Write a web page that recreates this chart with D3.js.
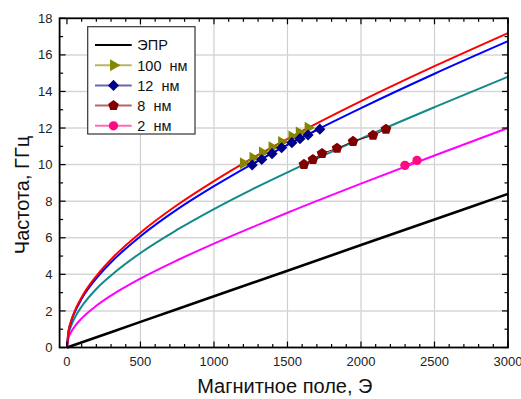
<!DOCTYPE html>
<html>
<head>
<meta charset="utf-8">
<script src="https://cdn.jsdelivr.net/npm/d3@7"></script>
<style>
  body { margin: 0; background: #fff; }
  svg { display: block; font-family: Arial, "Liberation Sans", sans-serif; }
</style>
</head>
<body>
<div id="chart"></div>
<script>
/* values */
const fieldOe = [0, 10, 25, 50, 100, 200, 300, 500, 750, 1000, 1250, 1500, 2000, 2500, 3000];
const curve100 = [0, 0.87, 1.37, 1.94, 2.75, 3.91, 4.82, 6.28, 7.79, 9.10, 10.30, 11.41, 13.47, 15.38, 17.19];
const curve12 = [0, 0.84, 1.33, 1.88, 2.66, 3.78, 4.66, 6.08, 7.55, 8.82, 9.99, 11.08, 13.09, 14.97, 16.75];
const curve8 = [0, 0.70, 1.11, 1.58, 2.24, 3.20, 3.94, 5.17, 6.44, 7.57, 8.61, 9.58, 11.42, 13.14, 14.80];
const curve2 = [0, 0.50, 0.79, 1.12, 1.59, 2.28, 2.84, 3.77, 4.77, 5.68, 6.54, 7.37, 8.96, 10.50, 12.00];
const eprField = [0, 500, 1000, 1500, 2000, 2500, 3000];
const eprFreq = [0, 1.4, 2.8, 4.2, 5.6, 7.0, 8.4];

const pts100H = [1200, 1265, 1330, 1395, 1460, 1530, 1580, 1640];
const pts100F = [10.07, 10.37, 10.66, 10.95, 11.24, 11.54, 11.75, 12.01];
const pts12H = [1260, 1325, 1395, 1460, 1530, 1585, 1640, 1720];
const pts12F = [9.98, 10.28, 10.60, 10.92, 11.20, 11.42, 11.62, 11.94];
const pts8H = [1612, 1673, 1735, 1837, 1946, 2082, 2170];
const pts8F = [10.01, 10.28, 10.61, 10.89, 11.27, 11.60, 11.93];
const pts2H = [2299, 2381];
const pts2F = [9.96, 10.23];

const legendLabels = ["ЭПР", "100  нм", "12  нм", "8  нм", "2  нм"];
const xTicks = [0, 500, 1000, 1500, 2000, 2500, 3000];
const yTicks = [0, 2, 4, 6, 8, 10, 12, 14, 16, 18];

const W = 521, H = 399;
const pLeft = 59.6, pRight = 508, pTop = 18.3, pBottom = 347.5;

const x = d3.scaleLinear().domain([-50, 3000]).range([pLeft, pRight]);
const y = d3.scaleLinear().domain([0, 18]).range([pBottom, pTop]);

const svg = d3.select("#chart").append("svg")
  .attr("width", W)
  .attr("height", H);

// grid
svg.append("g").selectAll("line")
  .data(xTicks.filter(d => d > 0 && d < 3000))
  .enter().append("line")
  .attr("x1", d => x(d)).attr("x2", d => x(d))
  .attr("y1", pTop).attr("y2", pBottom)
  .attr("stroke", "#cfcfcf").attr("stroke-width", 1.2);
svg.append("g").selectAll("line")
  .data(yTicks.filter(d => d > 0 && d < 18))
  .enter().append("line")
  .attr("x1", pLeft).attr("x2", pRight)
  .attr("y1", d => y(d)).attr("y2", d => y(d))
  .attr("stroke", "#d6d6d6").attr("stroke-width", 1.5);

// theory curves
const line = d3.line()
  .x(d => x(d[0]))
  .y(d => y(d[1]))
  .curve(d3.curveMonotoneX);

const curves = [
  {vals: curve2, color: "#ff00ff"},
  {vals: curve8, color: "#138a8a"},
  {vals: curve12, color: "#0000ff"},
  {vals: curve100, color: "#ff0000"}
];

svg.append("path")
  .datum(eprField.map((h, i) => [h, eprFreq[i]]))
  .attr("d", line)
  .attr("fill", "none")
  .attr("stroke", "#000")
  .attr("stroke-width", 2.6);

curves.forEach(c => {
  svg.append("path")
    .datum(fieldOe.map((h, i) => [h, c.vals[i]]))
    .attr("d", line)
    .attr("fill", "none")
    .attr("stroke", c.color)
    .attr("stroke-width", 2);
});

// pentagon symbol
const symbolPentagon = {
  draw(context, size) {
    const r = Math.sqrt(size / 2.378);
    for (let i = 0; i < 5; i++) {
      const a = -Math.PI / 2 + i * 2 * Math.PI / 5;
      if (i === 0) context.moveTo(r * Math.cos(a), r * Math.sin(a));
      else context.lineTo(r * Math.cos(a), r * Math.sin(a));
    }
    context.closePath();
  }
};

const series = [
  {hs: pts100H, fs: pts100F, color: "#858500", sym: d3.symbolTriangle, size: 62, rot: 90},
  {hs: pts12H, fs: pts12F, color: "#00008b", sym: d3.symbolSquare, size: 62, rot: 45},
  {hs: pts8H, fs: pts8F, color: "#800000", sym: symbolPentagon, size: 74, rot: 0},
  {hs: pts2H, fs: pts2F, color: "#ff0a84", sym: d3.symbolCircle, size: 68, rot: 0}
];

const thin = d3.line().x(d => x(d[0])).y(d => y(d[1]));

series.forEach(s => {
  const pts = s.hs.map((h, i) => [h, s.fs[i]]);
  svg.append("path")
    .datum(pts)
    .attr("d", thin)
    .attr("fill", "none")
    .attr("stroke", s.color)
    .attr("stroke-width", 1);
  svg.append("g").selectAll("path")
    .data(pts)
    .enter().append("path")
    .attr("d", d3.symbol().type(s.sym).size(s.size))
    .attr("transform", d => `translate(${x(d[0])},${y(d[1])}) rotate(${s.rot})`)
    .attr("fill", s.color);
});

// frame and ticks (inward, on all four sides)
const xMinor = d3.range(100, 3000, 100).filter(d => d % 500 !== 0);
const yMinor = d3.range(1, 18, 2);
const ticks = svg.append("g").attr("stroke", "#000").attr("stroke-width", 1.2);
[[xTicks, 6], [xMinor, 3.5]].forEach(([arr, len]) => {
  arr.forEach(d => {
    ticks.append("line").attr("x1", x(d)).attr("x2", x(d)).attr("y1", pBottom).attr("y2", pBottom - len);
    ticks.append("line").attr("x1", x(d)).attr("x2", x(d)).attr("y1", pTop).attr("y2", pTop + len);
  });
});
[[yTicks, 6], [yMinor, 3.5]].forEach(([arr, len]) => {
  arr.forEach(d => {
    ticks.append("line").attr("y1", y(d)).attr("y2", y(d)).attr("x1", pLeft).attr("x2", pLeft + len);
    ticks.append("line").attr("y1", y(d)).attr("y2", y(d)).attr("x1", pRight).attr("x2", pRight - len);
  });
});

svg.append("rect")
  .attr("x", pLeft).attr("y", pTop)
  .attr("width", pRight - pLeft).attr("height", pBottom - pTop)
  .attr("fill", "none")
  .attr("stroke", "#000")
  .attr("stroke-width", 1.8);

// tick labels
svg.append("g").selectAll("text")
  .data(xTicks)
  .enter().append("text")
  .attr("x", d => x(d))
  .attr("y", 366)
  .attr("text-anchor", "middle")
  .attr("font-size", 13)
  .attr("fill", "#222")
  .text(d => d);
svg.append("g").selectAll("text")
  .data(yTicks)
  .enter().append("text")
  .attr("x", 52.5)
  .attr("y", d => y(d) + 4.6)
  .attr("text-anchor", "end")
  .attr("font-size", 13)
  .attr("fill", "#222")
  .text(d => d);

// axis titles
svg.append("text")
  .attr("x", (pLeft + pRight) / 2 + 1)
  .attr("y", 393.3)
  .attr("text-anchor", "middle")
  .attr("font-size", 20)
  .attr("fill", "#111")
  .text("Магнитное поле, Э");
svg.append("text")
  .attr("transform", "translate(28.5,195) rotate(-90)")
  .attr("text-anchor", "middle")
  .attr("font-size", 20)
  .attr("fill", "#111")
  .text("Частота, ГГц");

// legend
const lg = svg.append("g");
lg.append("rect")
  .attr("x", 87.7).attr("y", 26.7)
  .attr("width", 107.3).attr("height", 107.3)
  .attr("fill", "#fff")
  .attr("stroke", "#333")
  .attr("stroke-width", 1.2);
const legendItems = [{color: "#000", sym: null}].concat(series);
legendItems.forEach((s, i) => {
  const cy = 45 + i * 20.2;
  lg.append("line")
    .attr("x1", 95).attr("x2", 131.7)
    .attr("y1", cy).attr("y2", cy)
    .attr("stroke", s.color)
    .attr("stroke-width", 2)
    .attr("stroke-opacity", s.sym ? 0.6 : 1);
  if (s.sym) {
    lg.append("path")
      .attr("d", d3.symbol().type(s.sym).size(s.size))
      .attr("transform", `translate(113.5,${cy}) rotate(${s.rot})`)
      .attr("fill", s.color);
  }
  lg.append("text")
    .attr("x", 137.3)
    .attr("y", cy + 5.3)
    .attr("font-size", 14.5)
    .attr("fill", "#111")
    .style("white-space", "pre")
    .text(legendLabels[i]);
});
</script>
</body>
</html>
